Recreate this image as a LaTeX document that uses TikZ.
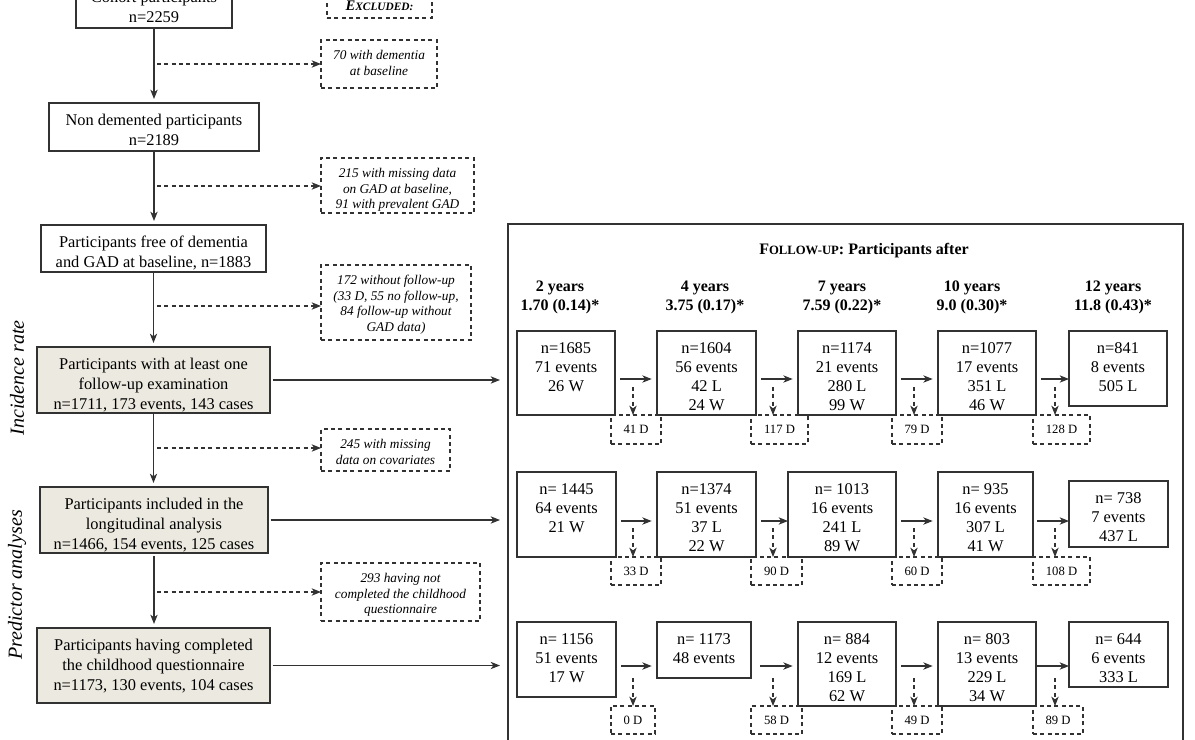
\documentclass[tikz,border=0pt]{standalone}
\usepackage{fontspec}
\setmainfont{Liberation Serif}
\usetikzlibrary{arrows.meta}
\definecolor{ln}{RGB}{50,50,50}
\definecolor{beige}{RGB}{236,234,224}
\newcommand{\cellT}[1]{\begin{tabular}[t]{@{}c@{}}#1\end{tabular}}
\tikzset{
 corners/.style args={#1/#2/#3/#4}{minimum width={(#3-#1)*0.75pt}, minimum height={(#4-#2)*0.75pt}, anchor=center, at={({(#1+#3)/2},{(#2+#4)/2})}},
 tcorners/.style args={#1/#2/#3/#4}{corners=#1/#2/#3/#4, text height=\pgfkeysvalueof{/tikz/toppad}, text depth={(#4-#2)*0.75pt-\pgfkeysvalueof{/tikz/toppad}}},
 toppad/.initial=16.5pt,
 base/.style={inner sep=0pt, outer sep=0pt, text=black},
 sbox/.style={base, draw=ln, line width=0.9pt, font=\fontsize{12.3}{15}\selectfont},
 hbox/.style={base, draw=ln, line width=2.2pt, fill=beige, font=\fontsize{12.3}{15}\selectfont},
 rbox/.style={base, draw=ln, line width=0.9pt, font=\fontsize{12.3}{14.25}\selectfont},
 xbox/.style={base, toppad=14.8pt, draw=ln, dash pattern=on 3pt off 2.5pt, line width=0.8pt, font=\fontsize{10}{11.6}\selectfont\itshape},
 dbox/.style={base, align=center, draw=ln, dash pattern=on 3pt off 2.5pt, line width=0.8pt, font=\fontsize{9.5}{11}\selectfont},
 arr/.style={draw=ln, line width=0.9pt, -{Stealth[length=7pt,width=5.5pt,inset=2pt]}},
 darr/.style={arr, dash pattern=on 3pt off 2.5pt},
 hdr/.style={base, align=center, font=\fontsize{12}{14.25}\selectfont\bfseries},
 side/.style={base, rotate=90, font=\fontsize{15}{18}\selectfont\itshape},
}
\begin{document}
\begin{tikzpicture}[x=0.75pt,y=-0.75pt]
\useasboundingbox (0,0) rectangle (1195,739);
\clip (0,0) rectangle (1195,739);

% ---------- left column ----------
\node[sbox, tcorners=76/-20/232/28] (cohort) {\cellT{Cohort participants\\n=2259}};
\node[xbox, tcorners=327/-9/432/18] (excl) {\cellT{\textbf{{\fontsize{11}{12}\selectfont E}{\fontsize{8.5}{10}\selectfont XCLUDED:}}}};
\node[sbox, tcorners=49/103/259/151] (nd) {\cellT{Non demented participants\\n=2189}};
\node[xbox, tcorners=321/40/437/88] (x1) {\cellT{70 with dementia\\at baseline}};
\node[xbox, tcorners=321/158/474/213] (x2) {\cellT{215 with missing data\\on GAD at baseline,\\91 with prevalent GAD}};
\node[sbox, tcorners=41/225/266/272] (free) {\cellT{Participants free of dementia\\and GAD at baseline, n=1883}};
\node[xbox, tcorners=321/265/471/340] (x3) {\cellT{172 without follow-up\\(33 D, 55 no follow-up,\\84 follow-up without\\GAD data)}};
\node[hbox, tcorners=37/347/270/413] (inc) {\cellT{Participants with at least one\\follow-up examination\\n=1711, 173 events, 143 cases}};
\node[xbox, tcorners=321/429/450/471] (x4) {\cellT{245 with missing\\data on covariates}};
\node[hbox, tcorners=40/487/268/553] (long) {\cellT{Participants included in the\\longitudinal analysis\\n=1466, 154 events, 125 cases}};
\node[xbox, tcorners=321/563/480/621] (x5) {\cellT{293 having not\\completed the childhood\\questionnaire}};
\node[hbox, tcorners=37/628/270/703] (child) {\cellT{Participants having completed\\the childhood questionnaire\\n=1173, 130 events, 104 cases}};

\node[side] (lab1) at (17,378) {Incidence rate};
\node[side] (lab2) at (17,585) {Predictor analyses};

\draw[arr, shorten >=3pt] (cohort.south) -- (cohort.south |- nd.north);
\draw[arr, shorten >=3pt] (nd.south) -- (nd.south |- free.north);
\draw[arr, shorten >=3pt] (free.south) -- (free.south |- inc.north);
\draw[arr, shorten >=3pt, shorten <=1pt] (inc.south) -- (inc.south |- long.north);
\draw[arr, shorten >=3pt, shorten <=2pt] (long.south) -- (long.south |- child.north);

\coordinate (e1) at (157,64);
\coordinate (e2) at (157,186);
\coordinate (e3) at (157,306);
\coordinate (e4) at (157,448);
\coordinate (e5) at (157,592);
\draw[darr] (e1) -- (x1.west |- e1);
\draw[darr] (e2) -- (x2.west |- e2);
\draw[darr] (e3) -- (x3.west |- e3);
\draw[darr] (e4) -- (x4.west |- e4);
\draw[darr] (e5) -- (x5.west |- e5);

% ---------- follow-up panel ----------
\node[base, draw=ln, line width=1.2pt, corners=508/224/1183/780] (fu) {};
\node[hdr] (title) at (864,251) {F{\fontsize{9.5}{11}\selectfont OLLOW-UP}: Participants after};
\node[hdr] (h1) at (560,297) {2 years\\1.70 (0.14)*};
\node[hdr] (h2) at (705,297) {4 years\\3.75 (0.17)*};
\node[hdr] (h3) at (842,297) {7 years\\7.59 (0.22)*};
\node[hdr] (h4) at (972,297) {10 years\\9.0 (0.30)*};
\node[hdr] (h5) at (1113,297) {12 years\\11.8 (0.43)*};

\draw[arr, shorten <=2pt, shorten >=6pt] (inc.east) -- (inc.east -| fu.west);
\draw[arr, shorten <=2pt, shorten >=6pt] (long.east) -- (long.east -| fu.west);
\draw[arr, shorten <=2pt, shorten >=6pt] (child.east) -- (child.east -| fu.west);

% D boxes
\node[dbox, corners=611/415/661/444] (d11) {41 D};
\node[dbox, corners=751/415/808/444] (d12) {117 D};
\node[dbox, corners=892/415/942/444] (d13) {79 D};
\node[dbox, corners=1033/415/1090/444] (d14) {128 D};
\node[dbox, corners=611/557/661/585] (d21) {33 D};
\node[dbox, corners=751/557/802/585] (d22) {90 D};
\node[dbox, corners=892/557/942/585] (d23) {60 D};
\node[dbox, corners=1033/557/1090/585] (d24) {108 D};
\node[dbox, corners=611/706/655/734] (d31) {0 D};
\node[dbox, corners=751/706/802/734] (d32) {58 D};
\node[dbox, corners=892/706/942/734] (d33) {49 D};
\node[dbox, corners=1033/706/1083/734] (d34) {89 D};

% row 1
\node[rbox, tcorners=517/331/615/415] (r11) {\cellT{n=1685\\71 events\\26 W}};
\node[rbox, tcorners=657/331/756/415] (r12) {\cellT{n=1604\\56 events\\42 L\\24 W}};
\node[rbox, tcorners=798/331/896/415] (r13) {\cellT{n=1174\\21 events\\280 L\\99 W}};
\node[rbox, tcorners=938/331/1036/415] (r14) {\cellT{n=1077\\17 events\\351 L\\46 W}};
\node[rbox, tcorners=1069/331/1167/406] (r15) {\cellT{n=841\\8 events\\505 L}};
% row 2
\node[rbox, tcorners=517/472/616/557] (r21) {\cellT{n= 1445\\64 events\\21 W}};
\node[rbox, tcorners=657/472/756/557] (r22) {\cellT{n=1374\\51 events\\37 L\\22 W}};
\node[rbox, tcorners=788/472/896/557] (r23) {\cellT{n= 1013\\16 events\\241 L\\89 W}};
\node[rbox, tcorners=938/472/1033/557] (r24) {\cellT{n= 935\\16 events\\307 L\\41 W}};
\node[rbox, tcorners=1069/481/1168/547] (r25) {\cellT{n= 738\\7 events\\437 L}};
% row 3
\node[rbox, tcorners=517/622/616/697] (r31) {\cellT{n= 1156\\51 events\\17 W}};
\node[rbox, tcorners=657/622/751/678] (r32) {\cellT{n= 1173\\48 events}};
\node[rbox, tcorners=798/622/896/706] (r33) {\cellT{n= 884\\12 events\\169 L\\62 W}};
\node[rbox, tcorners=938/622/1036/706] (r34) {\cellT{n= 803\\13 events\\229 L\\34 W}};
\node[rbox, tcorners=1069/622/1168/687] (r35) {\cellT{n= 644\\6 events\\333 L}};

% horizontal arrows
\coordinate (y1) at (0,379);
\coordinate (y2) at (0,521);
\coordinate (y3) at (0,666);
\draw[arr, shorten <=4pt, shorten >=4pt] (r11.east |- y1) -- (r12.west |- y1);
\draw[arr, shorten <=4pt, shorten >=4pt] (r12.east |- y1) -- (r13.west |- y1);
\draw[arr, shorten <=4pt, shorten >=4pt] (r13.east |- y1) -- (r14.west |- y1);
\draw[arr, shorten <=4pt] (r14.east |- y1) -- (r15.west |- y1);
\draw[arr, shorten <=4pt, shorten >=4pt] (r21.east |- y2) -- (r22.west |- y2);
\draw[arr, shorten <=4pt] (r22.east |- y2) -- (r23.west |- y2);
\draw[arr, shorten <=4pt, shorten >=4pt] (r23.east |- y2) -- (r24.west |- y2);
\draw[arr, shorten <=3pt] (r24.east |- y2) -- (r25.west |- y2);
\draw[arr, shorten <=4pt, shorten >=4pt] (r31.east |- y3) -- (r32.west |- y3);
\draw[arr, shorten <=7pt, shorten >=4pt] (r32.east |- y3) -- (r33.west |- y3);
\draw[arr, shorten <=4pt, shorten >=4pt] (r33.east |- y3) -- (r34.west |- y3);
\draw[arr] (r34.east |- y3) -- (r35.west |- y3);

% dashed down arrows
\coordinate (v11) at (633,387);  \coordinate (v12) at (773,387);
\coordinate (v13) at (914,387);  \coordinate (v14) at (1055,387);
\coordinate (v21) at (633,528);  \coordinate (v22) at (773,528);
\coordinate (v23) at (914,528);  \coordinate (v24) at (1055,528);
\coordinate (v31) at (633,678);  \coordinate (v32) at (773,678);
\coordinate (v33) at (914,678);  \coordinate (v34) at (1055,678);
\draw[darr] (v11) -- (v11 |- d11.north);
\draw[darr] (v12) -- (v12 |- d12.north);
\draw[darr] (v13) -- (v13 |- d13.north);
\draw[darr] (v14) -- (v14 |- d14.north);
\draw[darr] (v21) -- (v21 |- d21.north);
\draw[darr] (v22) -- (v22 |- d22.north);
\draw[darr] (v23) -- (v23 |- d23.north);
\draw[darr] (v24) -- (v24 |- d24.north);
\draw[darr] (v31) -- (v31 |- d31.north);
\draw[darr] (v32) -- (v32 |- d32.north);
\draw[darr] (v33) -- (v33 |- d33.north);
\draw[darr] (v34) -- (v34 |- d34.north);
\end{tikzpicture}
\end{document}
